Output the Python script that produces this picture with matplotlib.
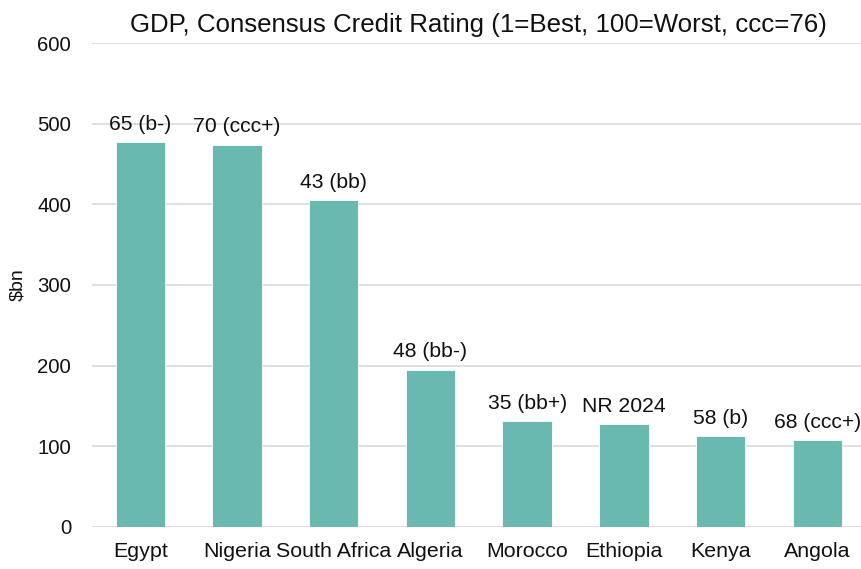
import matplotlib
matplotlib.use("Agg")
from matplotlib import pyplot as plt

countries = ["Egypt", "Nigeria", "South Africa", "Algeria", "Morocco", "Ethiopia", "Kenya", "Angola"]
gdp_bn = [477, 474, 405, 195, 131, 127, 112, 107]
ratings = ["65 (b-)", "70 (ccc+)", "43 (bb)", "48 (bb-)", "35 (bb+)", "NR 2024", "58 (b)", "68 (ccc+)"]
y_ticks = [0, 100, 200, 300, 400, 500, 600]

plt.rcParams["font.family"] = ["Liberation Sans", "DejaVu Sans"]

fig = plt.figure(figsize=(8.62, 5.69), dpi=100)
ax = fig.add_axes([92 / 862, 42.3 / 569, 773.6 / 862, 483.4 / 569])

x = range(len(countries))
bars = ax.bar(x, gdp_bn, width=0.51, color="#69b9b0", edgecolor="white", linewidth=0.6, zorder=3)

for b, txt in zip(bars, ratings):
    ax.annotate(txt, (b.get_x() + b.get_width() / 2, b.get_height()),
                xytext=(0, 6), textcoords="offset points",
                ha="center", va="bottom", fontsize=15.2, color="#111111")

ax.set_xlim(-0.5, len(countries) - 0.5)
ax.set_ylim(0, 600)
ax.set_yticks(y_ticks)
ax.set_xticks(list(x))
ax.set_xticklabels(countries, fontsize=15.4)
ax.tick_params(axis="both", length=0, colors="#111111")
ax.tick_params(axis="y", labelsize=14.7, pad=15)
ax.tick_params(axis="x", pad=11)

ax.grid(True, axis="y", color="#d9d9d9", linewidth=1.2, zorder=0)
for s in ax.spines.values():
    s.set_visible(False)

ax.set_ylabel("$bn", fontsize=14, color="#111111", labelpad=8)
ax.set_title("GDP, Consensus Credit Rating (1=Best, 100=Worst, ccc=76)", fontsize=18.6, color="#111111", pad=8)

fig.savefig("out.png", dpi=100)
